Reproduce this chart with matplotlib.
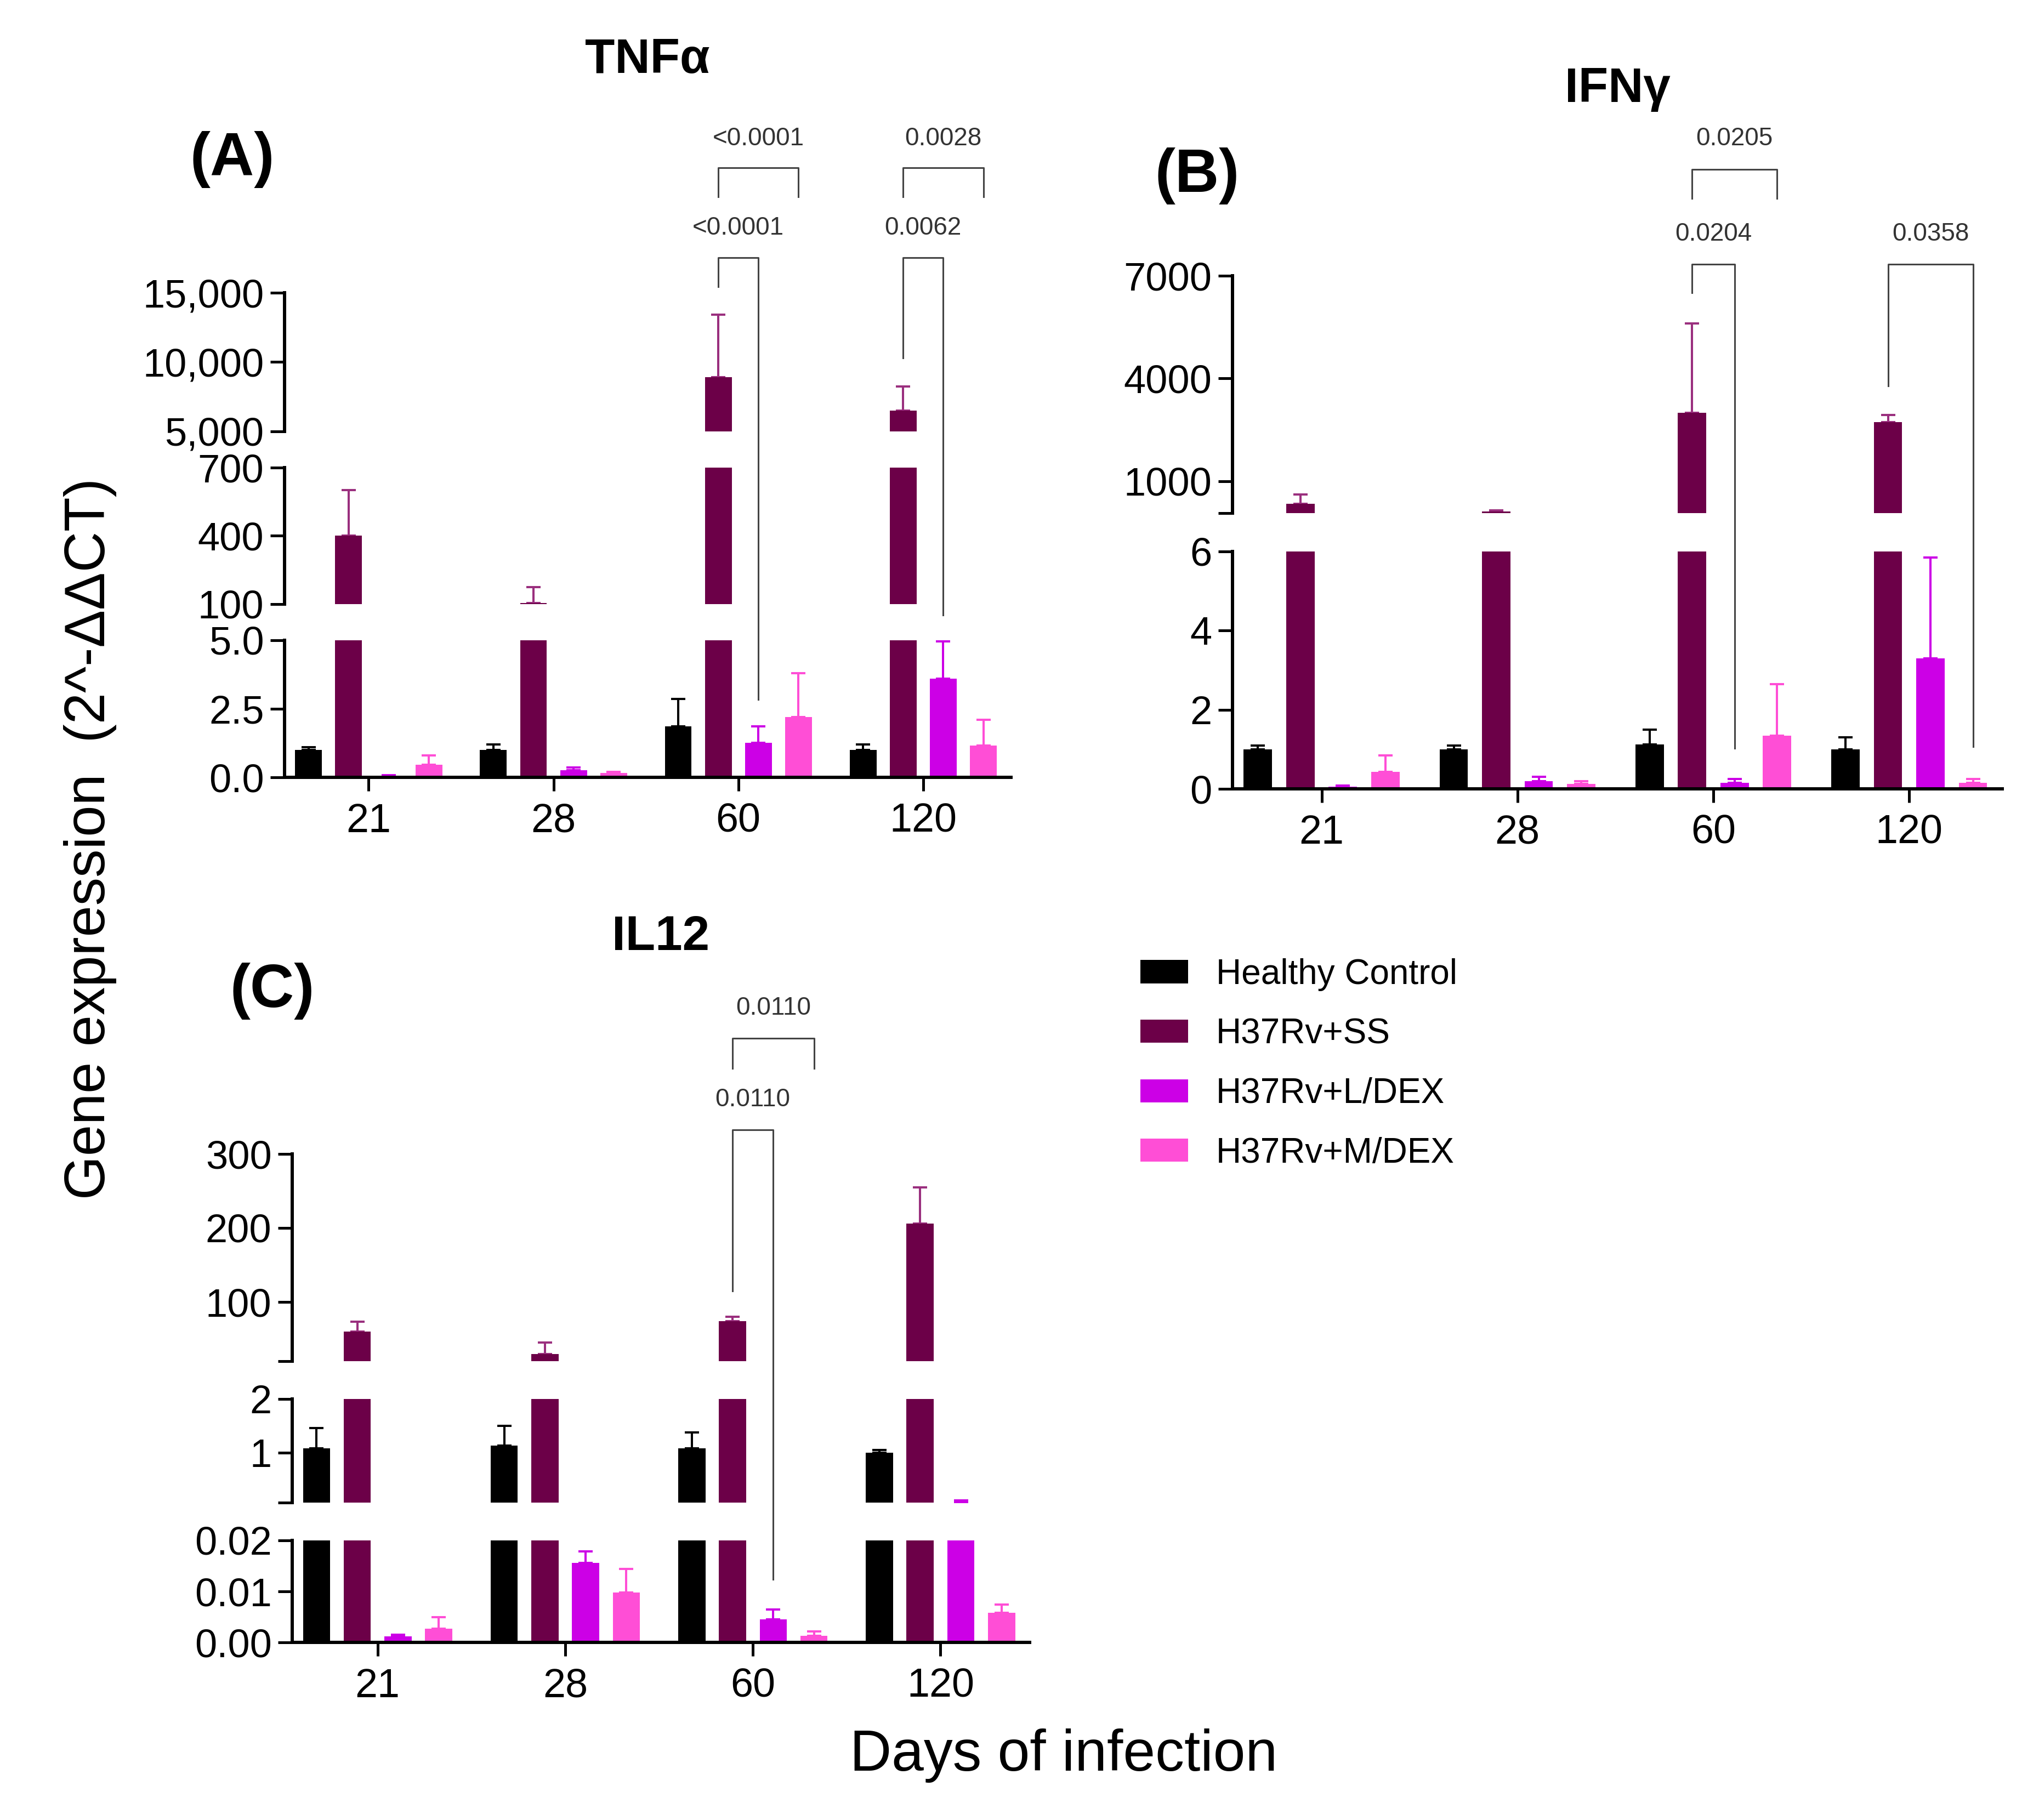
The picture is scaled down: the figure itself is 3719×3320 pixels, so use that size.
import numpy as np
import matplotlib
matplotlib.use('Agg')
import matplotlib.pyplot as plt
import matplotlib.transforms as mtrans
from matplotlib.patches import Patch

plt.rcParams['font.family'] = ['Liberation Sans', 'DejaVu Sans']

#%% data (mean and upper SD)
days = ['21', '28', '60', '120']
groups = ['Healthy Control', 'H37Rv+SS', 'H37Rv+L/DEX', 'H37Rv+M/DEX']
bar_colors = ['#000000', '#6C0048', '#CC00E6', '#FF4ED6']
err_colors = ['#000000', '#9A2F7E', '#CC00E6', '#FF4ED6']

# TNFa
tnf_hc = [1.0, 1.0, 1.85, 1.0]
tnf_hc_sd = [0.1, 0.2, 1.0, 0.2]
tnf_ss = [400, 105, 8900, 6500]
tnf_ss_sd = [200, 70, 4500, 1750]
tnf_l = [0.05, 0.25, 1.25, 3.6]
tnf_l_sd = [0.03, 0.1, 0.6, 1.35]
tnf_m = [0.45, 0.15, 2.2, 1.15]
tnf_m_sd = [0.35, 0.05, 1.6, 0.95]

# IFNg
ifn_hc = [1.0, 1.0, 1.12, 1.0]
ifn_hc_sd = [0.1, 0.1, 0.38, 0.3]
ifn_ss = [350, 113, 3000, 2720]
ifn_ss_sd = [260, 42, 2610, 210]
ifn_l = [0.05, 0.2, 0.15, 3.3]
ifn_l_sd = [0.03, 0.1, 0.1, 2.55]
ifn_m = [0.43, 0.12, 1.35, 0.15]
ifn_m_sd = [0.42, 0.08, 1.3, 0.1]

# IL12
il_hc = [1.08, 1.13, 1.08, 1.0]
il_hc_sd = [0.38, 0.37, 0.3, 0.05]
il_ss = [60, 30, 74, 206]
il_ss_sd = [13, 15, 6, 49]
il_l = [0.0012, 0.0156, 0.0045, 0.075]
il_l_sd = [0.0003, 0.0023, 0.002, 0.035]
il_m = [0.0027, 0.0098, 0.0013, 0.0058]
il_m_sd = [0.0022, 0.0046, 0.0008, 0.0016]

#%% layout helpers
W, H = 3719, 3320
fig = plt.figure(figsize=(W / 100, H / 100), dpi=100)
step = 0.217
width = 0.145
x = np.arange(len(days))


def px_ax(left, right, bottom, top):
    return fig.add_axes([left / W, 1 - bottom / H, (right - left) / W, (bottom - top) / H])


def panel(left, right, segs, means, sds):
    axes = []
    n = len(segs)
    for i, (lo, hi, pb, pt, ticks, labels) in enumerate(segs):
        ax = px_ax(left, right, pb, pt)
        ax.patch.set_visible(False)
        for k in range(4):
            off = (k - 1.5) * step
            ax.bar(x + off, means[k], width, color=bar_colors[k], zorder=2)
            ax.errorbar(x + off, means[k], yerr=[np.zeros(4), sds[k]], fmt='none',
                        ecolor=err_colors[k], elinewidth=2.9, capsize=9.5,
                        capthick=2.9, zorder=1)
        ax.set_xlim(-0.455, 3.475)
        ax.set_ylim(lo, hi)
        ax.set_yticks(ticks)
        ax.set_yticklabels(labels)
        ends = []
        if i > 0:
            ends.append(lo)
        if i < n - 1:
            ends.append(hi)
        ax.set_yticks(ends, minor=True)
        ax.tick_params(axis='y', which='major', direction='out', length=19, width=3.6,
                       labelsize=52, pad=8)
        ax.tick_params(axis='y', which='minor', direction='in', length=16, width=3.6)
        for s in ['top', 'right']:
            ax.spines[s].set_visible(False)
        ax.spines['left'].set_linewidth(4.3)
        if i == 0:
            ax.spines['bottom'].set_linewidth(4.3)
            ax.set_xticks(x)
            ax.set_xticklabels(days)
            ax.tick_params(axis='x', direction='out', length=18, width=3.6,
                           labelsize=53, pad=15)
        else:
            ax.spines['bottom'].set_visible(False)
            ax.tick_params(axis='x', bottom=False, labelbottom=False)
        axes.append(ax)
    return axes


def bracket(ax, g, k1, k2, yh, y1, y2, text, ytext):
    tr = mtrans.blended_transform_factory(ax.transData, fig.transFigure)
    x1 = g + (k1 - 1.5) * step
    x2 = g + (k2 - 1.5) * step
    ax.plot([x1, x1, x2, x2], [1 - y1 / H, 1 - yh / H, 1 - yh / H, 1 - y2 / H],
            transform=tr, color='#444444', lw=2.2, clip_on=False)
    ax.text((x1 + x2) / 2, 1 - ytext / H, text, transform=tr, ha='center',
            va='center', fontsize=33, color='#333333')


#%% panel A
segA = [(0, 5, 1418, 1168, [0, 2.5, 5], ['0.0', '2.5', '5.0']),
        (100, 700, 1102, 853, [100, 400, 700], ['100', '400', '700']),
        (5000, 15000, 787, 534, [5000, 10000, 15000], ['5,000', '10,000', '15,000'])]
axA = panel(519, 1844, segA, [tnf_hc, tnf_ss, tnf_l, tnf_m],
            [tnf_hc_sd, tnf_ss_sd, tnf_l_sd, tnf_m_sd])
bracket(axA[-1], 2, 1, 3, 306, 359, 359, '<0.0001', 253)
bracket(axA[-1], 2, 1, 2, 470, 523, 1276, '<0.0001', 416)
bracket(axA[-1], 3, 1, 3, 306, 359, 359, '0.0028', 253)
bracket(axA[-1], 3, 1, 2, 470, 653, 1122, '0.0062', 416)

#%% panel B
segB = [(0, 6, 1439, 1006, [0, 2, 4, 6], ['0', '2', '4', '6']),
        (70, 7000, 936, 503, [70, 1000, 4000, 7000], ['', '1000', '4000', '7000'])]
axB = panel(2248, 3652, segB, [ifn_hc, ifn_ss, ifn_l, ifn_m],
            [ifn_hc_sd, ifn_ss_sd, ifn_l_sd, ifn_m_sd])
bracket(axB[-1], 2, 1, 3, 309, 362, 362, '0.0205', 253)
bracket(axB[-1], 2, 1, 2, 482, 534, 1365, '0.0204', 427)
bracket(axB[-1], 3, 1, 3, 482, 704, 1362, '0.0358', 427)

#%% panel C
segC = [(0, 0.02, 2996, 2810, [0, 0.01, 0.02], ['0.00', '0.01', '0.02']),
        (0.07, 2, 2741, 2552, [0.07, 1, 2], ['', '1', '2']),
        (20, 300, 2483, 2105, [20, 100, 200, 300], ['', '100', '200', '300'])]
axC = panel(533, 1878, segC, [il_hc, il_ss, il_l, il_m],
            [il_hc_sd, il_ss_sd, il_l_sd, il_m_sd])
bracket(axC[-1], 2, 1, 3, 1894, 1949, 1949, '0.0110', 1839)
bracket(axC[-1], 2, 1, 2, 2061, 2355, 2881, '0.0110', 2006)

#%% titles and labels
for txt, cx, cy in [('TNFα', 1181, 110), ('IFNγ', 2950, 163), ('IL12', 1205, 1710)]:
    fig.text(cx / W, 1 - cy / H, txt, ha='center', va='center', fontsize=64,
             fontweight='bold')
for txt, cx, cy in [('(A)', 424, 291), ('(B)', 2184, 321), ('(C)', 497, 1808)]:
    fig.text(cx / W, 1 - cy / H, txt, ha='center', va='center', fontsize=80,
             fontweight='bold')

fig.text(165 / W, 1 - 1530 / H, 'Gene expression  (2^-ΔΔCT)', rotation=90,
         ha='center', va='center', fontsize=74)
fig.text(1940 / W, 1 - 3202 / H, 'Days of infection', ha='center', va='center',
         fontsize=76)

handles = [Patch(facecolor=c, edgecolor='none') for c in bar_colors]
fig.legend(handles, groups, loc='upper left', bbox_to_anchor=(2080 / W, 1 - 1748 / H),
           frameon=False, borderpad=0, borderaxespad=0, handlelength=1.36,
           handleheight=0.64, handletextpad=0.8, labelspacing=0.76, fontsize=46)

fig.savefig('out.png', dpi=100)
